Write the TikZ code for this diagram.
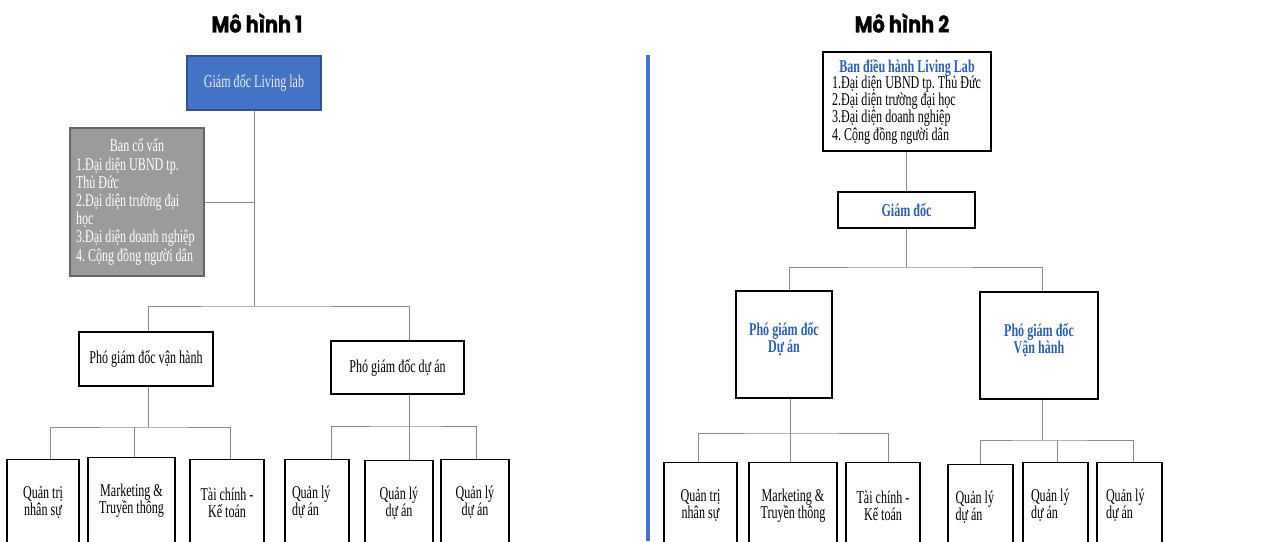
\documentclass[tikz,border=0pt]{standalone}
\usepackage{fontspec}
\setmainfont{Liberation Serif}
\newfontfamily\vnfont[FakeStretch=0.67]{Liberation Serif}
\newfontfamily\titlefont[FakeStretch=0.84, BoldFeatures={FakeBold=1.2}]{Poppins}
\newcommand{\fixsp}{\frenchspacing\spaceskip=0pt\relax\xspaceskip=0pt\relax}
\usetikzlibrary{positioning}
\definecolor{lbblue}{RGB}{68,114,196}
\definecolor{lbborder}{RGB}{47,82,143}
\definecolor{lbgray}{RGB}{155,155,155}
\definecolor{lbtext}{RGB}{46,95,168}
\definecolor{lbline}{RGB}{125,140,165}

\begin{document}
\begin{tikzpicture}[x=1pt, y=-1pt,
	box/.style={draw, line width=1.2pt, inner sep=0pt, align=center,
		font=\vnfont\fontsize{18}{17}\selectfont},
	leaf/.style={box, anchor=north, minimum height=86},
	conn/.style={lbline, line width=0.8pt},
	heading/.style={font=\titlefont\bfseries\fontsize{23}{26}\selectfont}]
	\useasboundingbox (0,0) rectangle (1284,541);
	\fill[white] (0,0) rectangle (1284,541);

	%%% Titoli
	\node[heading] (t1) at (257,23) {Mô hình 1};
	\node[heading] (t2) at (902,23) {Mô hình 2};
	\draw[lbblue, line width=4pt] (648,55) -- (648,541);

	%%% Mô hình 1
	\node[box, fill=lbblue, draw=lbborder, text=white!92!black,
		minimum width=134, minimum height=54] (gd1) at (254,83) {Giám đốc Living lab};
	\node[box, fill=lbgray, draw=black!60, text=white, align=left,
		minimum width=134, minimum height=148, text width=122,
		font=\vnfont\fontsize{18}{18.2}\selectfont] (bcv) at (137,202)
		{\fixsp\makebox[122pt]{Ban cố vấn}\\1.Đại diện UBND tp.\\Thủ Đức\\2.Đại diện trường đại\\học\\3.Đại diện doanh nghiệp\\4. Cộng đồng người dân};
	\node[box, minimum width=134, minimum height=54] (pgdvh) at (146,359) {Phó giám đốc vận hành};
	\node[box, minimum width=133, minimum height=53] (pgdda) at (397.5,367.5) {Phó giám đốc dự án};

	\node[leaf, minimum width=72] (qt1) at (43,459) {Quản trị\\nhân sự};
	\node[leaf, minimum width=87] (mk1) at (131.5,457) {Marketing \&\\Truyền thông};
	\node[leaf, minimum width=74] (tc1) at (227,459) {Tài chính -\\Kế toán};
	\node[leaf, minimum width=64, align=left, text width=50] (ql11) at (317,459) {\fixsp Quản lý\\dự án};
	\node[leaf, minimum width=68] (ql12) at (399,460) {Quản lý\\dự án};
	\node[leaf, minimum width=68] (ql13) at (475,459) {Quản lý\\dự án};

	% collegamenti
	\coordinate (m1a) at (254,306);
	\coordinate (m1b) at (148,427);
	\coordinate (m1c) at (409,426);
	\draw[conn] (gd1.south) -- (m1a);
	\draw[conn] (bcv.east) -- (bcv.east -| m1a);
	\draw[conn] (pgdvh.north -| m1b) |- (m1a) -| ([xshift=11.5pt]pgdda.north);
	\draw[conn] (pgdvh.south -| m1b) -- (m1b);
	\draw[conn] ([xshift=7pt]qt1.north) |- (m1b) -| ([xshift=3pt]tc1.north);
	\draw[conn] ([xshift=2.5pt]mk1.north) -- ([xshift=2.5pt]mk1.north |- m1b);
	\draw[conn] ([xshift=11.5pt]pgdda.south) -- (m1c);
	\draw[conn] ([xshift=14pt]ql11.north) |- (m1c) -| ([xshift=1pt]ql13.north);
	\draw[conn] (m1c) -- (m1c |- ql12.north);

	%%% Mô hình 2
	\node[box, minimum width=168, minimum height=99, align=left, text width=150,
		font=\vnfont\fontsize{18}{16.7}\selectfont] (bdh) at (907,101.5)
		{\fixsp\makebox[150pt]{\bfseries\color{lbtext}Ban điều hành Living Lab}\\1.Đại diện UBND tp. Thủ Đức\\2.Đại diện trường đại học\\3.Đại diện doanh nghiệp\\4. Cộng đồng người dân};
	\node[box, minimum width=137, minimum height=36, text=lbtext,
		font=\vnfont\bfseries\fontsize{18}{17}\selectfont] (gd2) at (906.5,210) {Giám đốc};
	\node[box, minimum width=96, minimum height=107, text=lbtext,
		font=\vnfont\bfseries\fontsize{18}{17}\selectfont] (pgd2da) at (784,344.5) {Phó giám đốc\\Dự án\\[-2pt]};
	\node[box, minimum width=118, minimum height=107, text=lbtext,
		font=\vnfont\bfseries\fontsize{18}{17}\selectfont] (pgd2vh) at (1039,345.5) {Phó giám đốc\\Vận hành\\[-2pt]};

	\node[leaf, minimum width=73] (qt2) at (700.5,462) {Quản trị\\nhân sự};
	\node[leaf, minimum width=88] (mk2) at (793,462) {Marketing \&\\Truyền thông};
	\node[leaf, minimum width=74] (tc2) at (883,462) {Tài chính -\\Kế toán};
	\node[leaf, minimum width=65, align=left, text width=50] (ql21) at (980.5,464) {\fixsp Quản lý\\dự án};
	\node[leaf, minimum width=65, align=left, text width=49] (ql22) at (1055.5,462) {\fixsp Quản lý\\dự án};
	\node[leaf, minimum width=65, align=left, text width=47] (ql23) at (1129.5,462) {\fixsp Quản lý\\dự án};

	% collegamenti
	\coordinate (m2a) at (905,267);
	\coordinate (m2b) at (790,433);
	\coordinate (m2c) at (1042,440);
	\draw[conn] (bdh.south -| gd2.north) -- (gd2.north);
	\draw[conn] (gd2.south) -- (gd2.south |- m2a);
	\draw[conn] ([xshift=5pt]pgd2da.north) |- (m2a) -| ([xshift=3pt]pgd2vh.north);
	\draw[conn] ([xshift=6pt]pgd2da.south) -- (m2b);
	\draw[conn] ([xshift=-2.5pt]qt2.north) |- (m2b) -| ([xshift=5pt]tc2.north);
	\draw[conn] ([xshift=-3pt]mk2.north) -- ([xshift=-3pt]mk2.north |- m2b);
	\draw[conn] ([xshift=3pt]pgd2vh.south) -- (m2c);
	\draw[conn] ([xshift=-0.5pt]ql21.north) |- (m2c) -| ([xshift=3.5pt]ql23.north);
	\draw[conn] ([xshift=1.5pt]ql22.north) -- ([xshift=1.5pt]ql22.north |- m2c);
\end{tikzpicture}
\end{document}
